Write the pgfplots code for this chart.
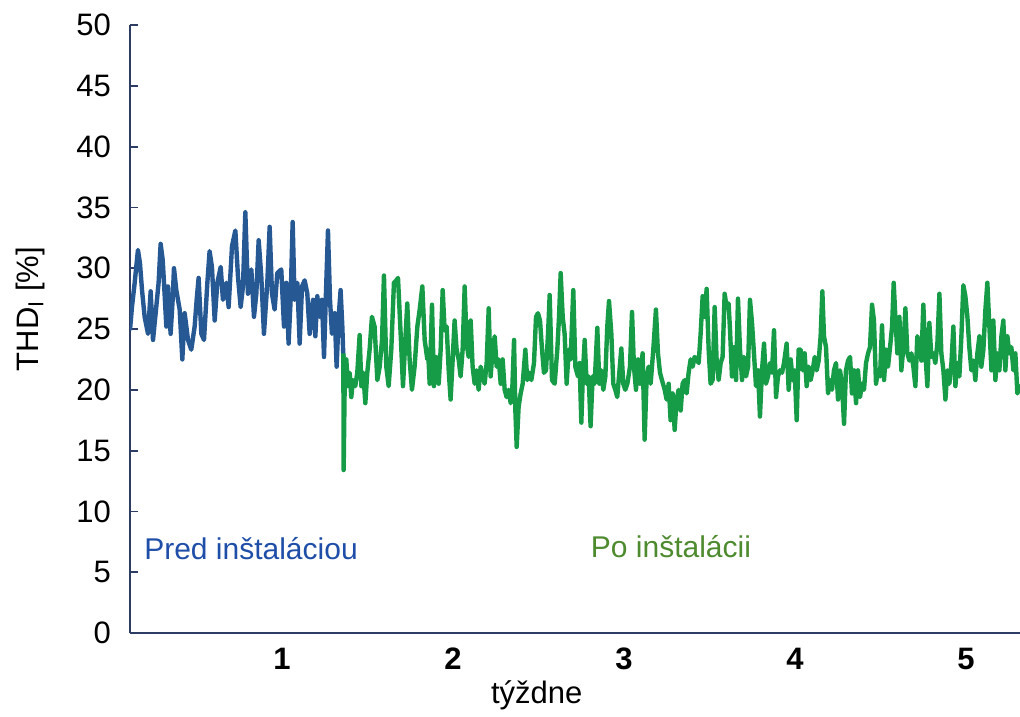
\documentclass[border=0pt]{standalone}
\usepackage{pgfplots}
\pgfplotsset{compat=1.18}
\usepackage{fontspec}
\setmainfont{Liberation Sans}

\definecolor{spine}{RGB}{45,60,98}
\definecolor{bluline}{RGB}{38,88,148}
\definecolor{grnline}{RGB}{22,155,70}
\definecolor{bluetext}{RGB}{30,78,168}
\definecolor{greentext}{RGB}{78,138,46}

\begin{document}
\begin{tikzpicture}
\useasboundingbox (-65pt,-41.5pt) rectangle (445pt,316.5pt);
\begin{axis}[
    scale only axis,
    width=445pt, height=304pt,
    xmin=18.7, xmax=893.1,
    ymin=0, ymax=50,
    axis lines*=left,
    axis line style={spine, line width=0.9pt},
    ytick={0,5,...,50},
    xtick={168,336,504,672,840},
    xticklabels={1,2,3,4,5},
    tick align=inside,
    major tick length=4pt,
    ytick style={spine, line width=0.9pt},
    xtick style={draw=none},
    tick label style={font=\fontsize{15.5}{17}\selectfont},
    xticklabel style={font=\fontsize{15.5}{17}\selectfont\bfseries, yshift=-4pt},
    yticklabel style={xshift=-6pt},
    /pgf/number format/assume math mode=true,
    ylabel={THD\textsubscript{I} [\%]},
    ylabel style={font=\fontsize{15.5}{17}\selectfont, at={(axis description cs:-0.112,0.533)}, anchor=center},
    xlabel={týždne},
    xlabel style={font=\fontsize{15.5}{17}\selectfont, at={(axis description cs:0.457,0)}, anchor=center, yshift=-31pt},
    every axis plot/.append style={line width=2.2pt, line join=round},
]
% pred instalaciou
\addplot[bluline, mark=none] coordinates {
(18.7,24.9) (20.6,26.8) (23.3,28.8) (26.5,31.5) (28.5,30.4) (30.5,28.2) (33.1,26.0) (36.4,24.6)
(39.0,28.1) (41.3,24.1) (44.5,26.8) (46.8,28.8) (48.8,32.0) (50.8,30.7) (52.1,28.8) (54.4,25.2)
(56.0,28.5) (58.6,24.6) (60.6,27.4) (61.9,30.0) (64.2,28.2) (67.5,26.6) (70.1,22.5) (72.4,26.3)
(75.7,24.1) (78.9,23.3) (82.2,25.2) (84.2,27.4) (86.1,29.2) (88.8,24.6) (91.4,24.1) (94.7,28.8)
(96.9,31.4) (99.2,30.1) (101.9,25.7) (104.5,28.8) (107.8,30.1) (110.0,27.4) (113.3,28.8) (115.6,26.8)
(118.9,31.8) (122.2,33.1) (124.8,29.3) (127.4,26.8) (129.7,28.5) (132.0,34.6) (134.6,27.9) (137.9,29.9)
(140.5,26.0) (142.8,27.9) (145.1,32.3) (147.7,29.3) (150.3,24.6) (153.6,28.8) (155.9,33.4) (158.2,27.9)
(160.8,26.6) (163.4,29.6) (167.3,29.9) (170.0,25.2) (172.3,28.8) (174.5,23.8) (176.5,27.4) (178.5,33.8)
(180.4,27.4) (183.1,28.8) (185.4,23.8) (187.7,28.5) (190.3,29.0) (192.9,27.9) (195.2,24.6) (198.5,27.4)
(200.8,24.4) (202.7,27.7) (205.0,26.0) (207.3,27.4) (209.3,22.7) (211.2,27.9) (213.2,33.1) (215.2,27.4)
(217.1,24.6) (219.8,26.3) (221.7,21.9) (223.7,26.0) (225.6,28.2) (227.3,25.2) (228.3,22.7)
};
% po instalacii
\addplot[grnline, mark=none] coordinates {
(228.3,23.0) (228.6,13.4) (229.6,20.3) (231.2,22.5) (232.8,20.3) (234.5,21.4) (236.1,19.4) (237.8,20.8)
(240.0,20.3) (242.0,21.4) (244.3,24.5) (246.0,20.3) (247.9,21.4) (249.9,18.9) (251.8,21.4) (254.1,23.3)
(256.4,26.0) (259.0,25.2) (261.7,20.8) (264.0,21.9) (266.3,24.1) (268.2,29.4) (270.5,21.9) (272.8,20.3)
(275.4,23.3) (278.0,28.8) (280.3,29.0) (282.0,29.2) (284.6,24.6) (286.9,20.3) (289.2,24.1) (291.1,27.1)
(293.4,22.5) (295.7,20.0) (298.3,21.9) (301.0,25.2) (303.3,26.6) (305.9,28.5) (308.2,24.1) (310.8,22.5)
(311.5,23.3) (313.1,20.5) (315.4,27.0) (317.3,20.3) (319.3,22.7) (322.0,20.5) (323.9,23.3) (325.9,28.2)
(327.8,24.9) (329.8,25.2) (331.8,21.6) (333.7,19.2) (335.7,22.5) (337.6,25.7) (339.6,23.3) (341.6,22.5)
(343.5,21.1) (345.5,23.3) (347.5,28.5) (349.4,23.8) (351.4,22.7) (353.4,25.7) (355.3,21.9) (357.3,20.5)
(359.3,21.6) (361.2,20.0) (363.2,21.9) (365.2,21.1) (367.1,20.5) (369.1,22.2) (371.1,26.7) (373.0,21.1)
(375.0,23.3) (377.0,24.4) (378.9,21.9) (380.9,22.5) (382.9,20.5) (384.8,22.5) (386.8,20.0) (388.7,19.4)
(390.7,20.0) (392.7,18.9) (394.0,19.4) (396.0,24.1) (397.3,18.3) (398.6,15.3) (400.5,18.6) (402.5,19.7)
(404.5,20.5) (407.1,23.3) (409.0,20.8) (411.0,21.4) (413.0,20.8) (415.6,22.2) (417.6,26.0) (419.5,26.3)
(421.5,25.7) (423.5,23.3) (425.4,21.4) (427.4,21.6) (429.4,24.6) (431.0,27.8) (433.3,20.8) (435.9,20.5)
(438.5,23.3) (440.2,26.0) (441.8,29.6) (443.8,26.0) (445.7,24.6) (447.7,20.5) (449.7,23.3) (451.6,22.5)
(454.2,28.2) (456.2,21.9) (458.8,21.1) (460.4,22.2) (462.1,17.3) (463.7,21.4) (465.4,24.1) (467.3,20.5)
(469.3,21.1) (471.2,17.0) (473.2,21.1) (475.2,20.5) (477.8,25.1) (479.8,20.5) (481.7,21.6) (483.7,20.0)
(485.7,21.1) (487.6,25.2) (489.3,27.3) (491.6,24.6) (493.5,20.5) (495.5,20.0) (497.4,19.4) (499.4,21.4)
(501.4,23.4) (503.3,20.5) (505.3,20.0) (507.3,20.5) (509.9,21.9) (511.9,26.4) (513.8,21.9) (515.8,20.0)
(517.8,22.5) (519.7,20.5) (522.3,23.0) (524.3,15.9) (526.3,21.1) (528.2,21.9) (530.2,20.5) (532.8,23.3)
(535.4,26.6) (537.4,23.0) (539.4,21.4) (541.3,20.8) (544.0,20.0) (545.9,19.2) (547.9,20.5) (549.8,17.5)
(551.8,19.7) (553.8,16.7) (555.7,19.2) (557.7,20.0) (559.7,18.3) (561.6,20.5) (563.6,20.8) (565.6,19.7)
(567.5,21.4) (569.5,22.5) (571.5,21.9) (573.4,22.7) (575.4,22.5) (577.4,22.2) (579.3,24.6) (581.3,27.7)
(583.3,26.0) (585.2,28.3) (587.2,23.3) (589.1,20.5) (591.1,20.8) (593.1,26.8) (595.0,22.5) (597.0,20.8)
(599.0,22.2) (600.9,22.7) (602.9,27.9) (604.9,26.8) (606.8,27.1) (608.2,24.9) (610.1,21.1) (612.1,23.5)
(614.1,20.8) (616.0,27.5) (618.0,23.3) (620.0,20.8) (621.9,22.7) (623.9,21.1) (625.9,21.9) (627.8,27.4)
(629.8,25.5) (631.7,23.0) (633.7,20.3) (635.7,21.6) (637.6,17.8) (639.6,21.6) (641.6,23.8) (643.5,20.5)
(645.5,21.1) (647.5,22.2) (649.4,21.4) (651.4,24.9) (653.4,19.4) (655.3,21.1) (657.3,21.6) (659.3,21.4)
(661.2,22.2) (663.8,23.8) (665.8,20.0) (667.8,22.5) (669.7,20.8) (671.7,21.6) (673.7,17.5) (675.6,23.3)
(677.6,23.3) (679.6,21.6) (681.5,23.0) (683.5,20.3) (685.5,21.9) (687.4,20.8) (689.4,21.6) (691.4,22.7)
(693.3,21.6) (695.3,22.4) (697.2,24.4) (698.9,28.1) (700.5,24.4) (702.5,23.5) (704.5,19.7) (706.4,20.8)
(708.4,20.0) (710.3,21.6) (712.3,22.2) (714.3,19.2) (716.2,21.6) (718.2,20.5) (720.2,17.2) (722.1,21.6)
(724.1,22.4) (726.1,22.7) (728.0,19.7) (730.0,21.6) (732.0,18.9) (733.9,21.6) (735.9,19.4) (737.9,20.5)
(739.8,20.0) (741.8,22.2) (743.8,23.0) (745.7,23.5) (747.7,27.0) (749.6,25.7) (751.6,20.5) (753.6,21.6)
(755.6,21.1) (757.5,25.3) (759.5,20.8) (761.5,23.3) (763.4,21.9) (765.4,23.5) (767.4,25.2) (769.0,28.8)
(770.6,26.0) (772.6,23.0) (774.6,26.0) (776.5,21.6) (778.5,23.5) (780.5,26.7) (782.4,23.0) (784.4,22.4)
(786.4,23.0) (788.3,21.9) (790.3,20.3) (792.2,24.4) (794.2,23.8) (796.2,22.4) (798.1,27.0) (800.1,23.0)
(802.1,20.3) (804.0,25.5) (806.0,22.7) (808.0,23.0) (809.9,22.2) (811.9,23.8) (813.9,27.9) (815.8,23.0)
(817.8,21.6) (819.8,19.2) (821.7,21.6) (823.7,20.5) (825.7,22.2) (827.6,25.2) (829.6,20.3) (831.5,22.2)
(833.5,21.1) (835.5,24.4) (837.4,28.6) (839.4,27.7) (841.4,26.0) (843.3,23.5) (845.3,21.6) (847.3,22.4)
(849.2,20.8) (851.2,23.0) (853.2,24.4) (855.1,21.9) (857.1,23.3) (859.1,26.6) (861.0,28.8) (863.0,25.2)
(865.0,21.6) (866.9,25.7) (868.9,20.8) (870.9,23.0) (872.8,21.6) (874.8,24.4) (876.7,25.7) (878.7,21.6)
(880.7,24.4) (882.6,23.0) (884.6,23.5) (886.6,21.6) (888.5,23.0) (890.5,19.7) (892.4,20.3) (894.0,20.0)
};
\node[bluetext, font=\fontsize{15}{17}\selectfont] at (axis cs:137.6,6.9) {Pred inštaláciou};
\node[greentext, font=\fontsize{15}{17}\selectfont] at (axis cs:550.2,7.1) {Po inštalácii};
\end{axis}
\end{tikzpicture}
\end{document}
